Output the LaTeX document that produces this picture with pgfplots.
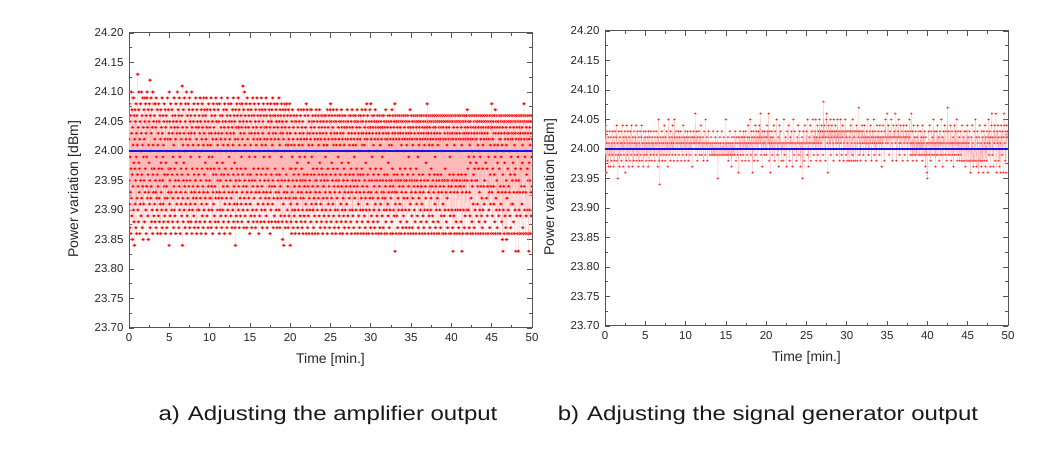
\documentclass[border=0pt]{standalone}
\usepackage{pgfplots}
\pgfplotsset{compat=1.18}
\usepackage{pgfplotstable}
\usepackage{graphicx}
\usepackage{fontspec}
\setmainfont{Liberation Sans}

\pgfplotstableread[row sep=\\]{
y\\
24.02\\ 23.95\\ 24.08\\ 23.91\\ 23.87\\ 24.05\\ 23.99\\ 23.93\\ 24.06\\ 23.86\\ 23.97\\ 24.10\\ 23.92\\ 24.03\\ 23.89\\ 24.07\\ 23.96\\ 23.85\\ 24.04\\ 24.09\\
23.94\\ 24.01\\ 23.90\\ 24.09\\ 23.98\\ 23.88\\ 24.06\\ 23.84\\ 24.02\\ 23.97\\ 24.07\\ 23.91\\ 24.05\\ 23.95\\ 23.87\\ 24.08\\ 23.99\\ 24.03\\ 23.86\\ 24.06\\
23.92\\ 24.01\\ 23.96\\ 24.13\\ 23.90\\ 23.94\\ 24.04\\ 23.88\\ 24.07\\ 23.98\\ 24.10\\ 23.93\\ 23.97\\ 24.02\\ 23.86\\ 24.05\\ 23.91\\ 24.08\\ 23.95\\ 24.00\\
23.89\\ 24.03\\ 24.10\\ 23.92\\ 23.96\\ 24.06\\ 23.87\\ 24.01\\ 23.94\\ 24.09\\ 23.85\\ 24.04\\ 23.99\\ 23.91\\ 24.07\\ 23.95\\ 24.02\\ 23.88\\ 24.05\\ 24.09\\
23.93\\ 23.97\\ 24.08\\ 23.90\\ 24.03\\ 23.86\\ 24.06\\ 23.94\\ 23.99\\ 24.09\\ 24.10\\ 23.92\\ 24.04\\ 23.89\\ 23.96\\ 24.07\\ 23.85\\ 24.01\\ 23.93\\ 24.05\\
23.98\\ 24.08\\ 23.91\\ 23.95\\ 24.12\\ 23.87\\ 24.06\\ 24.00\\ 23.92\\ 24.09\\ 23.94\\ 24.03\\ 23.88\\ 24.07\\ 23.97\\ 23.90\\ 24.04\\ 23.86\\ 24.10\\ 23.96\\
24.01\\ 23.93\\ 24.05\\ 23.89\\ 24.08\\ 23.97\\ 24.06\\ 23.91\\ 24.02\\ 23.88\\ 24.08\\ 23.95\\ 23.93\\ 24.04\\ 23.87\\ 24.09\\ 23.99\\ 23.92\\ 24.05\\ 23.90\\
23.96\\ 24.07\\ 23.86\\ 24.01\\ 23.94\\ 24.03\\ 23.89\\ 24.08\\ 23.97\\ 23.92\\ 24.05\\ 23.88\\ 24.00\\ 23.95\\ 24.06\\ 23.91\\ 24.02\\ 23.86\\ 24.07\\ 23.98\\
23.93\\ 24.04\\ 23.90\\ 23.97\\ 24.09\\ 23.87\\ 24.03\\ 23.95\\ 23.99\\ 24.06\\ 23.91\\ 24.01\\ 23.88\\ 24.05\\ 23.94\\ 24.08\\ 23.96\\ 23.89\\ 24.02\\ 23.92\\
24.07\\ 23.86\\ 24.04\\ 23.98\\ 23.90\\ 24.06\\ 23.94\\ 24.00\\ 23.87\\ 24.05\\ 23.92\\ 24.09\\ 23.96\\ 24.02\\ 23.88\\ 24.07\\ 23.93\\ 23.97\\ 24.03\\ 23.84\\
24.10\\ 23.91\\ 24.05\\ 23.95\\ 23.89\\ 24.02\\ 23.97\\ 24.08\\ 23.86\\ 24.04\\ 23.93\\ 24.00\\ 23.90\\ 24.07\\ 23.96\\ 24.03\\ 23.88\\ 24.06\\ 23.92\\ 23.99\\
24.05\\ 23.87\\ 24.01\\ 23.94\\ 24.09\\ 23.90\\ 23.97\\ 24.04\\ 23.89\\ 24.06\\ 23.95\\ 24.02\\ 23.86\\ 24.08\\ 23.93\\ 23.98\\ 24.05\\ 23.91\\ 24.03\\ 23.96\\
24.10\\ 23.88\\ 24.04\\ 23.92\\ 24.07\\ 23.95\\ 24.00\\ 23.87\\ 24.06\\ 23.94\\ 24.09\\ 23.90\\ 23.99\\ 24.03\\ 23.86\\ 24.05\\ 23.93\\ 24.08\\ 23.97\\ 23.91\\
24.02\\ 23.89\\ 24.06\\ 23.96\\ 24.11\\ 23.84\\ 24.04\\ 23.92\\ 24.01\\ 23.88\\ 24.07\\ 23.95\\ 23.98\\ 24.03\\ 23.90\\ 24.09\\ 23.94\\ 24.00\\ 23.87\\ 24.05\\
23.93\\ 24.08\\ 23.91\\ 24.02\\ 23.97\\ 24.10\\ 23.86\\ 24.04\\ 23.95\\ 23.89\\ 24.06\\ 23.92\\ 24.01\\ 23.96\\ 24.08\\ 23.88\\ 24.03\\ 23.94\\ 24.07\\ 23.90\\
24.09\\ 23.87\\ 24.02\\ 23.95\\ 24.05\\ 23.91\\ 23.99\\ 24.06\\ 23.88\\ 24.03\\ 23.93\\ 24.10\\ 23.86\\ 24.04\\ 23.97\\ 23.90\\ 24.07\\ 23.94\\ 24.01\\ 23.92\\
24.05\\ 23.89\\ 24.08\\ 23.96\\ 23.87\\ 24.03\\ 23.93\\ 24.06\\ 23.91\\ 24.00\\ 23.95\\ 24.09\\ 23.88\\ 24.04\\ 23.92\\ 24.02\\ 23.86\\ 24.07\\ 23.97\\ 23.90\\
24.05\\ 23.94\\ 24.08\\ 23.87\\ 24.01\\ 23.96\\ 24.04\\ 23.90\\ 24.06\\ 23.93\\ 23.99\\ 24.03\\ 23.88\\ 24.09\\ 23.92\\ 24.05\\ 23.95\\ 24.00\\ 23.86\\ 24.07\\
23.91\\ 24.02\\ 23.97\\ 24.08\\ 23.89\\ 24.04\\ 23.94\\ 24.06\\ 23.87\\ 24.01\\ 23.93\\ 24.09\\ 23.90\\ 24.03\\ 23.96\\ 24.07\\ 23.88\\ 24.05\\ 23.92\\ 23.98\\
24.06\\ 23.86\\ 24.02\\ 23.95\\ 24.09\\ 23.91\\ 24.04\\ 23.89\\ 24.07\\ 23.97\\ 23.93\\ 24.01\\ 23.87\\ 24.05\\ 23.94\\ 24.08\\ 23.90\\ 23.99\\ 24.03\\ 23.92\\
23.95\\ 24.04\\ 23.88\\ 24.07\\ 23.92\\ 24.01\\ 23.97\\ 24.09\\ 23.87\\ 24.03\\ 23.94\\ 24.06\\ 23.90\\ 23.99\\ 24.05\\ 23.86\\ 24.02\\ 23.93\\ 24.08\\ 23.96\\
23.91\\ 24.04\\ 23.97\\ 24.07\\ 23.89\\ 24.00\\ 23.94\\ 24.06\\ 23.88\\ 24.03\\ 23.92\\ 24.09\\ 23.96\\ 24.02\\ 23.87\\ 24.05\\ 23.93\\ 23.98\\ 24.08\\ 23.90\\
24.01\\ 23.95\\ 24.07\\ 23.88\\ 24.03\\ 23.92\\ 24.05\\ 23.97\\ 23.86\\ 24.08\\ 23.93\\ 24.00\\ 23.90\\ 24.06\\ 23.95\\ 24.02\\ 23.89\\ 24.04\\ 23.96\\ 24.09\\
23.87\\ 24.03\\ 23.92\\ 24.06\\ 23.98\\ 23.90\\ 24.05\\ 23.94\\ 24.01\\ 23.88\\ 24.07\\ 23.96\\ 23.93\\ 24.04\\ 23.86\\ 24.08\\ 23.91\\ 24.02\\ 23.97\\ 24.05\\
23.89\\ 24.00\\ 23.95\\ 24.07\\ 23.92\\ 24.03\\ 23.87\\ 24.06\\ 23.94\\ 24.09\\ 23.90\\ 24.01\\ 23.96\\ 24.04\\ 23.88\\ 24.08\\ 23.93\\ 23.99\\ 24.05\\ 23.91\\
24.02\\ 23.86\\ 24.06\\ 23.95\\ 24.03\\ 23.89\\ 24.08\\ 23.92\\ 24.00\\ 23.97\\ 24.05\\ 23.87\\ 24.04\\ 23.93\\ 24.07\\ 23.90\\ 24.01\\ 23.96\\ 24.09\\ 23.88\\
24.03\\ 23.94\\ 24.06\\ 23.91\\ 23.98\\ 24.05\\ 23.87\\ 24.02\\ 23.84\\ 24.07\\ 23.95\\ 24.00\\ 23.89\\ 24.04\\ 23.93\\ 24.08\\ 23.97\\ 23.91\\ 24.06\\ 23.88\\
24.02\\ 23.96\\ 24.09\\ 23.90\\ 24.04\\ 23.94\\ 24.07\\ 23.87\\ 24.01\\ 23.95\\ 24.05\\ 23.92\\ 24.08\\ 23.89\\ 24.03\\ 23.97\\ 24.06\\ 23.91\\ 23.99\\ 24.04\\
23.88\\ 24.08\\ 23.93\\ 24.02\\ 23.96\\ 24.11\\ 23.90\\ 24.05\\ 23.94\\ 24.07\\ 23.87\\ 24.03\\ 23.92\\ 24.10\\ 23.95\\ 24.01\\ 23.89\\ 24.06\\ 23.97\\ 24.04\\
23.91\\ 24.08\\ 23.94\\ 24.00\\ 23.87\\ 24.05\\ 23.93\\ 24.09\\ 23.90\\ 24.02\\ 23.96\\ 24.07\\ 23.88\\ 24.04\\ 23.92\\ 24.06\\ 23.95\\ 23.99\\ 24.03\\ 23.86\\
24.08\\ 23.91\\ 24.05\\ 23.96\\ 24.01\\ 23.89\\ 24.07\\ 23.93\\ 24.03\\ 23.87\\ 24.06\\ 23.95\\ 24.00\\ 23.90\\ 24.09\\ 23.94\\ 24.04\\ 23.88\\ 24.02\\ 23.97\\
24.06\\ 23.92\\ 24.08\\ 23.89\\ 24.03\\ 23.95\\ 23.99\\ 24.05\\ 23.87\\ 24.07\\ 23.93\\ 24.01\\ 23.90\\ 24.04\\ 23.96\\ 24.09\\ 23.88\\ 24.02\\ 23.94\\ 24.06\\
23.91\\ 24.03\\ 23.97\\ 24.08\\ 23.86\\ 24.05\\ 23.93\\ 24.00\\ 23.89\\ 24.07\\ 23.95\\ 24.02\\ 23.92\\ 24.06\\ 23.88\\ 24.04\\ 23.96\\ 24.09\\ 23.90\\ 24.01\\
23.94\\ 24.07\\ 23.87\\ 24.03\\ 23.97\\ 24.05\\ 23.91\\ 24.08\\ 23.93\\ 23.99\\ 24.06\\ 23.88\\ 24.02\\ 23.95\\ 24.04\\ 23.90\\ 24.07\\ 23.92\\ 24.01\\ 23.96\\
24.09\\ 23.89\\ 24.04\\ 23.93\\ 24.06\\ 23.87\\ 24.02\\ 23.97\\ 24.08\\ 23.91\\ 24.00\\ 23.95\\ 24.05\\ 23.88\\ 24.03\\ 23.92\\ 24.07\\ 23.94\\ 23.99\\ 24.04\\
23.86\\ 24.06\\ 23.93\\ 24.08\\ 23.90\\ 24.02\\ 23.96\\ 24.05\\ 23.88\\ 24.07\\ 23.94\\ 24.01\\ 23.91\\ 24.09\\ 23.95\\ 24.03\\ 23.87\\ 24.06\\ 23.92\\ 24.00\\
24.04\\ 23.89\\ 24.08\\ 23.94\\ 24.02\\ 23.97\\ 24.06\\ 23.88\\ 24.03\\ 23.93\\ 24.07\\ 23.90\\ 24.05\\ 23.96\\ 24.00\\ 23.87\\ 24.08\\ 23.92\\ 24.04\\ 23.95\\
24.06\\ 23.88\\ 24.02\\ 23.93\\ 24.09\\ 23.90\\ 24.05\\ 23.96\\ 24.01\\ 23.87\\ 24.07\\ 23.94\\ 24.03\\ 23.89\\ 24.06\\ 23.92\\ 23.99\\ 24.08\\ 23.95\\ 24.04\\
23.88\\ 24.05\\ 23.85\\ 24.03\\ 23.97\\ 24.07\\ 23.91\\ 24.02\\ 23.84\\ 24.06\\ 23.93\\ 24.00\\ 23.89\\ 24.08\\ 23.95\\ 24.04\\ 23.87\\ 24.07\\ 23.92\\ 24.01\\
23.96\\ 24.05\\ 23.88\\ 24.08\\ 23.93\\ 24.03\\ 23.90\\ 24.06\\ 23.94\\ 24.01\\ 23.87\\ 24.07\\ 23.95\\ 24.02\\ 23.89\\ 24.04\\ 23.92\\ 24.08\\ 23.97\\ 24.00\\
23.84\\ 24.03\\ 23.91\\ 24.06\\ 23.88\\ 23.97\\ 24.01\\ 23.86\\ 24.05\\ 23.93\\ 23.99\\ 24.07\\ 23.90\\ 23.95\\ 24.02\\ 23.87\\ 24.04\\ 23.92\\ 23.96\\ 24.06\\
23.89\\ 24.01\\ 23.94\\ 24.05\\ 23.90\\ 23.86\\ 24.03\\ 23.97\\ 23.92\\ 24.05\\ 23.88\\ 24.00\\ 23.95\\ 24.06\\ 23.91\\ 23.98\\ 24.02\\ 23.87\\ 24.04\\ 23.93\\
24.07\\ 23.90\\ 23.96\\ 24.01\\ 23.86\\ 24.05\\ 23.94\\ 23.99\\ 24.03\\ 23.89\\ 23.95\\ 24.06\\ 23.92\\ 24.02\\ 23.88\\ 24.07\\ 23.93\\ 23.97\\ 24.04\\ 23.87\\
24.01\\ 23.90\\ 24.05\\ 23.95\\ 23.86\\ 24.03\\ 23.92\\ 24.07\\ 23.96\\ 23.89\\ 24.02\\ 23.94\\ 23.99\\ 24.06\\ 23.88\\ 23.95\\ 24.04\\ 23.91\\ 24.00\\ 23.86\\
24.08\\ 23.93\\ 24.02\\ 23.90\\ 24.07\\ 23.96\\ 23.87\\ 24.03\\ 23.94\\ 24.06\\ 23.89\\ 23.98\\ 24.01\\ 23.86\\ 24.05\\ 23.92\\ 24.03\\ 23.95\\ 23.90\\ 24.07\\
23.93\\ 24.02\\ 23.88\\ 24.04\\ 23.96\\ 24.07\\ 23.91\\ 23.99\\ 24.05\\ 23.86\\ 24.01\\ 23.94\\ 24.06\\ 23.90\\ 23.97\\ 24.03\\ 23.87\\ 24.05\\ 23.92\\ 23.96\\
24.04\\ 23.89\\ 24.02\\ 23.95\\ 23.86\\ 24.06\\ 23.93\\ 24.00\\ 23.91\\ 24.07\\ 23.95\\ 23.88\\ 24.03\\ 23.97\\ 24.05\\ 23.90\\ 23.94\\ 24.02\\ 23.86\\ 24.06\\
23.92\\ 24.01\\ 23.96\\ 24.04\\ 23.89\\ 24.07\\ 23.93\\ 23.98\\ 24.03\\ 23.87\\ 24.05\\ 23.91\\ 24.02\\ 23.95\\ 24.06\\ 23.88\\ 23.97\\ 24.04\\ 23.90\\ 23.96\\
24.06\\ 23.86\\ 23.94\\ 24.03\\ 23.92\\ 24.05\\ 23.94\\ 24.01\\ 23.89\\ 24.06\\ 23.95\\ 24.02\\ 23.87\\ 24.04\\ 23.93\\ 23.99\\ 24.06\\ 23.90\\ 23.96\\ 24.03\\
23.88\\ 24.05\\ 23.92\\ 24.01\\ 23.86\\ 24.07\\ 23.95\\ 23.97\\ 24.04\\ 23.91\\ 24.02\\ 23.89\\ 24.06\\ 23.94\\ 24.00\\ 23.87\\ 24.05\\ 23.93\\ 24.07\\ 23.90\\
24.08\\ 23.96\\ 24.03\\ 23.88\\ 24.05\\ 23.92\\ 23.98\\ 24.06\\ 23.86\\ 24.02\\ 23.95\\ 24.04\\ 23.91\\ 23.97\\ 24.07\\ 23.89\\ 24.01\\ 23.94\\ 24.05\\ 23.87\\
24.03\\ 23.93\\ 24.06\\ 23.90\\ 23.96\\ 24.02\\ 23.86\\ 24.05\\ 23.95\\ 24.01\\ 23.88\\ 24.07\\ 23.92\\ 24.03\\ 23.97\\ 23.90\\ 24.06\\ 23.94\\ 23.99\\ 24.04\\
23.87\\ 23.95\\ 24.02\\ 23.89\\ 24.05\\ 23.93\\ 24.06\\ 23.86\\ 24.01\\ 23.96\\ 24.03\\ 23.91\\ 24.05\\ 23.88\\ 24.07\\ 23.94\\ 23.98\\ 24.04\\ 23.90\\ 24.02\\
23.86\\ 24.06\\ 23.92\\ 24.03\\ 23.95\\ 23.89\\ 24.05\\ 23.97\\ 24.01\\ 23.87\\ 24.04\\ 23.93\\ 24.06\\ 23.90\\ 23.96\\ 24.02\\ 23.88\\ 24.05\\ 23.94\\ 24.00\\
23.91\\ 24.04\\ 23.86\\ 24.07\\ 23.95\\ 24.02\\ 23.89\\ 24.05\\ 23.93\\ 23.98\\ 24.03\\ 23.87\\ 24.06\\ 23.92\\ 24.01\\ 23.96\\ 24.04\\ 23.90\\ 23.94\\ 24.06\\
23.88\\ 24.02\\ 23.97\\ 24.05\\ 23.86\\ 24.03\\ 23.93\\ 24.07\\ 23.90\\ 23.95\\ 24.04\\ 23.89\\ 24.01\\ 23.96\\ 24.06\\ 23.87\\ 24.02\\ 23.94\\ 23.99\\ 24.05\\
23.92\\ 24.03\\ 23.86\\ 24.06\\ 23.95\\ 24.01\\ 23.90\\ 24.05\\ 23.93\\ 23.97\\ 24.04\\ 23.88\\ 24.07\\ 23.94\\ 24.02\\ 23.86\\ 24.05\\ 23.96\\ 23.91\\ 24.03\\
23.89\\ 24.06\\ 23.95\\ 24.00\\ 23.87\\ 24.04\\ 23.93\\ 24.02\\ 23.90\\ 24.06\\ 23.96\\ 23.86\\ 24.05\\ 23.92\\ 24.03\\ 23.97\\ 24.07\\ 23.88\\ 24.01\\ 23.94\\
24.05\\ 23.90\\ 23.96\\ 24.03\\ 23.86\\ 24.06\\ 23.93\\ 24.01\\ 23.89\\ 24.04\\ 23.95\\ 24.02\\ 23.87\\ 24.07\\ 23.92\\ 23.98\\ 24.05\\ 23.90\\ 24.03\\ 23.86\\
24.08\\ 23.94\\ 24.02\\ 23.91\\ 24.06\\ 23.96\\ 23.88\\ 24.04\\ 23.93\\ 24.00\\ 23.86\\ 24.05\\ 23.95\\ 24.03\\ 23.90\\ 24.07\\ 23.92\\ 23.97\\ 24.04\\ 23.87\\
24.08\\ 23.93\\ 24.02\\ 23.89\\ 24.05\\ 23.95\\ 23.99\\ 24.06\\ 23.86\\ 24.03\\ 23.92\\ 24.04\\ 23.88\\ 24.01\\ 23.96\\ 24.06\\ 23.90\\ 23.94\\ 24.05\\ 23.87\\
24.02\\ 23.95\\ 24.07\\ 23.91\\ 23.97\\ 24.04\\ 23.86\\ 24.03\\ 23.93\\ 24.05\\ 23.89\\ 24.00\\ 23.95\\ 24.06\\ 23.88\\ 24.02\\ 23.92\\ 24.04\\ 23.96\\ 23.86\\
24.05\\ 23.90\\ 24.03\\ 23.94\\ 24.06\\ 23.87\\ 24.01\\ 23.95\\ 24.04\\ 23.91\\ 23.97\\ 24.05\\ 23.86\\ 24.02\\ 23.93\\ 24.06\\ 23.89\\ 23.99\\ 24.04\\ 23.92\\
23.95\\ 24.03\\ 23.87\\ 24.06\\ 23.93\\ 24.00\\ 23.90\\ 24.05\\ 23.96\\ 23.86\\ 24.04\\ 23.92\\ 24.02\\ 23.94\\ 24.07\\ 23.88\\ 24.03\\ 23.95\\ 23.90\\ 24.05\\
23.86\\ 24.02\\ 23.96\\ 24.04\\ 23.91\\ 24.06\\ 23.89\\ 23.98\\ 24.03\\ 23.93\\ 24.05\\ 23.87\\ 24.01\\ 23.95\\ 24.06\\ 23.90\\ 23.94\\ 24.02\\ 23.86\\ 24.04\\
23.92\\ 24.05\\ 23.95\\ 24.01\\ 23.88\\ 24.07\\ 23.93\\ 23.97\\ 24.03\\ 23.86\\ 24.06\\ 23.94\\ 24.02\\ 23.90\\ 24.04\\ 23.96\\ 23.89\\ 24.05\\ 23.93\\ 24.08\\
23.83\\ 24.03\\ 23.91\\ 24.06\\ 23.95\\ 23.86\\ 24.02\\ 23.93\\ 24.05\\ 23.89\\ 24.00\\ 23.96\\ 24.04\\ 23.87\\ 24.06\\ 23.92\\ 24.03\\ 23.95\\ 23.90\\ 24.05\\
23.86\\ 24.02\\ 23.94\\ 24.06\\ 23.91\\ 23.97\\ 24.04\\ 23.88\\ 24.03\\ 23.95\\ 24.05\\ 23.86\\ 24.01\\ 23.93\\ 24.06\\ 23.90\\ 23.96\\ 24.02\\ 23.87\\ 24.05\\
23.94\\ 24.03\\ 23.89\\ 24.06\\ 23.92\\ 24.00\\ 23.95\\ 24.04\\ 23.86\\ 24.02\\ 23.97\\ 24.05\\ 23.90\\ 24.06\\ 23.93\\ 23.87\\ 24.03\\ 23.95\\ 24.01\\ 23.88\\
24.05\\ 23.92\\ 24.02\\ 23.96\\ 24.06\\ 23.86\\ 24.04\\ 23.94\\ 23.99\\ 24.03\\ 23.90\\ 24.05\\ 23.87\\ 24.02\\ 23.95\\ 24.07\\ 23.91\\ 23.97\\ 24.04\\ 23.86\\
24.03\\ 23.93\\ 24.06\\ 23.89\\ 23.95\\ 24.02\\ 23.87\\ 24.05\\ 23.92\\ 24.01\\ 23.96\\ 24.04\\ 23.86\\ 24.06\\ 23.94\\ 24.00\\ 23.90\\ 24.03\\ 23.95\\ 24.05\\
23.88\\ 24.02\\ 23.93\\ 24.06\\ 23.86\\ 23.97\\ 24.04\\ 23.91\\ 24.05\\ 23.95\\ 24.02\\ 23.89\\ 24.06\\ 23.94\\ 23.99\\ 24.03\\ 23.87\\ 24.05\\ 23.92\\ 24.01\\
23.96\\ 24.04\\ 23.86\\ 24.06\\ 23.93\\ 24.02\\ 23.90\\ 24.05\\ 23.95\\ 23.88\\ 24.03\\ 23.94\\ 24.06\\ 23.91\\ 24.00\\ 23.86\\ 24.04\\ 23.96\\ 24.02\\ 23.89\\
24.05\\ 23.93\\ 24.03\\ 23.87\\ 24.06\\ 23.95\\ 24.01\\ 23.90\\ 24.04\\ 23.86\\ 24.02\\ 23.94\\ 24.05\\ 23.92\\ 23.98\\ 24.06\\ 23.88\\ 24.03\\ 23.95\\ 24.04\\
24.08\\ 23.90\\ 24.02\\ 23.95\\ 24.05\\ 23.86\\ 24.03\\ 23.93\\ 24.06\\ 23.89\\ 24.01\\ 23.96\\ 24.04\\ 23.87\\ 24.05\\ 23.94\\ 24.02\\ 23.90\\ 24.06\\ 23.92\\
23.97\\ 24.03\\ 23.86\\ 24.05\\ 23.94\\ 24.01\\ 23.89\\ 24.06\\ 23.95\\ 24.02\\ 23.88\\ 24.04\\ 23.93\\ 24.05\\ 23.86\\ 24.03\\ 23.96\\ 24.06\\ 23.91\\ 23.99\\
24.04\\ 23.87\\ 24.05\\ 23.94\\ 24.02\\ 23.90\\ 24.06\\ 23.95\\ 23.86\\ 24.03\\ 23.92\\ 24.05\\ 23.96\\ 24.01\\ 23.88\\ 24.06\\ 23.93\\ 24.02\\ 23.86\\ 24.04\\
23.95\\ 24.05\\ 23.90\\ 24.03\\ 23.94\\ 24.06\\ 23.87\\ 24.02\\ 23.96\\ 24.04\\ 23.89\\ 24.05\\ 23.93\\ 24.00\\ 23.86\\ 24.06\\ 23.95\\ 24.02\\ 23.91\\ 24.04\\
23.86\\ 24.05\\ 23.94\\ 24.02\\ 23.89\\ 24.06\\ 23.95\\ 24.03\\ 23.90\\ 23.97\\ 24.05\\ 23.86\\ 24.02\\ 23.93\\ 24.06\\ 23.88\\ 24.04\\ 23.95\\ 24.01\\ 23.92\\
24.05\\ 23.87\\ 24.03\\ 23.95\\ 24.06\\ 23.90\\ 24.02\\ 23.94\\ 24.04\\ 23.86\\ 24.05\\ 23.96\\ 23.99\\ 24.03\\ 23.89\\ 24.06\\ 23.93\\ 24.02\\ 23.86\\ 24.05\\
23.94\\ 24.02\\ 23.90\\ 24.06\\ 23.95\\ 24.03\\ 23.87\\ 24.05\\ 23.83\\ 24.02\\ 23.96\\ 24.04\\ 23.89\\ 24.06\\ 23.93\\ 24.01\\ 23.86\\ 24.05\\ 23.95\\ 24.03\\
23.90\\ 24.06\\ 23.94\\ 24.02\\ 23.88\\ 24.05\\ 23.95\\ 24.03\\ 23.86\\ 24.04\\ 23.93\\ 24.06\\ 23.90\\ 24.00\\ 23.96\\ 24.05\\ 23.87\\ 24.02\\ 23.94\\ 24.06\\
23.86\\ 24.03\\ 23.95\\ 24.05\\ 23.90\\ 24.02\\ 23.94\\ 24.06\\ 23.88\\ 24.04\\ 23.96\\ 24.01\\ 23.83\\ 24.05\\ 23.93\\ 24.02\\ 23.86\\ 24.06\\ 23.95\\ 24.03\\
23.90\\ 24.05\\ 23.94\\ 24.02\\ 23.87\\ 24.06\\ 23.95\\ 24.03\\ 23.89\\ 24.04\\ 23.96\\ 24.05\\ 23.86\\ 24.02\\ 23.93\\ 24.06\\ 23.90\\ 24.03\\ 23.95\\ 24.07\\
23.86\\ 24.04\\ 23.97\\ 24.02\\ 23.90\\ 24.05\\ 23.99\\ 24.03\\ 23.87\\ 24.06\\ 23.93\\ 24.01\\ 23.89\\ 24.05\\ 23.98\\ 24.02\\ 23.86\\ 24.04\\ 23.92\\ 24.06\\
23.95\\ 24.03\\ 23.88\\ 24.00\\ 23.94\\ 24.02\\ 23.86\\ 24.06\\ 23.91\\ 24.04\\ 23.96\\ 23.99\\ 24.05\\ 23.87\\ 24.03\\ 23.97\\ 24.06\\ 23.90\\ 24.02\\ 23.95\\
24.04\\ 23.86\\ 24.05\\ 23.98\\ 24.02\\ 23.89\\ 24.06\\ 23.95\\ 24.03\\ 23.91\\ 24.05\\ 23.94\\ 24.01\\ 23.86\\ 24.04\\ 23.97\\ 24.06\\ 23.88\\ 24.00\\ 23.93\\
24.05\\ 23.90\\ 24.03\\ 23.99\\ 24.06\\ 23.86\\ 24.02\\ 23.94\\ 24.04\\ 23.89\\ 24.05\\ 23.92\\ 24.03\\ 23.87\\ 24.06\\ 23.97\\ 24.01\\ 23.90\\ 24.04\\ 23.86\\
24.05\\ 23.94\\ 24.02\\ 23.91\\ 24.06\\ 23.95\\ 24.03\\ 23.88\\ 24.05\\ 23.98\\ 23.98\\ 24.04\\ 23.86\\ 24.06\\ 23.92\\ 24.02\\ 23.97\\ 24.05\\ 23.89\\ 24.03\\
23.94\\ 24.06\\ 23.86\\ 24.04\\ 23.99\\ 24.02\\ 23.90\\ 24.05\\ 23.93\\ 24.00\\ 23.87\\ 24.06\\ 23.96\\ 24.01\\ 23.91\\ 24.04\\ 23.94\\ 24.05\\ 23.86\\ 24.02\\
24.08\\ 23.93\\ 24.04\\ 23.89\\ 24.06\\ 23.97\\ 24.02\\ 23.86\\ 24.05\\ 23.94\\ 24.03\\ 23.91\\ 24.06\\ 23.96\\ 24.01\\ 23.88\\ 24.04\\ 23.99\\ 24.07\\ 23.86\\
24.03\\ 23.92\\ 24.05\\ 23.90\\ 24.00\\ 23.95\\ 24.06\\ 23.87\\ 24.04\\ 23.98\\ 24.01\\ 23.86\\ 24.05\\ 23.93\\ 24.03\\ 23.89\\ 24.06\\ 23.97\\ 24.02\\ 23.90\\
24.04\\ 23.86\\ 24.06\\ 23.94\\ 24.02\\ 23.91\\ 24.05\\ 23.99\\ 24.03\\ 23.88\\ 24.06\\ 23.93\\ 24.01\\ 23.85\\ 24.04\\ 23.96\\ 23.83\\ 24.05\\ 23.90\\ 24.00\\
23.94\\ 24.06\\ 23.86\\ 24.03\\ 23.98\\ 24.05\\ 23.89\\ 24.02\\ 23.93\\ 24.06\\ 23.87\\ 24.04\\ 23.95\\ 24.01\\ 23.85\\ 24.05\\ 23.92\\ 24.03\\ 23.86\\ 24.06\\
23.97\\ 24.02\\ 23.90\\ 24.05\\ 23.94\\ 24.03\\ 23.86\\ 24.06\\ 23.93\\ 24.00\\ 23.89\\ 24.04\\ 23.96\\ 24.05\\ 23.87\\ 24.02\\ 23.99\\ 24.06\\ 23.91\\ 24.03\\
23.86\\ 24.05\\ 23.95\\ 24.02\\ 23.91\\ 24.06\\ 23.98\\ 24.03\\ 23.88\\ 24.04\\ 23.93\\ 24.05\\ 23.86\\ 24.01\\ 23.96\\ 24.06\\ 23.90\\ 24.03\\ 23.97\\ 24.05\\
23.83\\ 24.02\\ 23.95\\ 24.06\\ 23.89\\ 24.04\\ 23.93\\ 24.00\\ 23.86\\ 24.05\\ 23.99\\ 24.03\\ 23.83\\ 24.06\\ 23.95\\ 24.02\\ 23.90\\ 24.05\\ 23.86\\ 24.04\\
23.93\\ 24.06\\ 23.89\\ 24.03\\ 23.97\\ 24.05\\ 23.86\\ 24.02\\ 23.94\\ 24.06\\ 23.91\\ 24.04\\ 23.98\\ 24.01\\ 23.87\\ 24.05\\ 23.93\\ 24.03\\ 23.86\\ 24.06\\
24.08\\ 23.94\\ 24.02\\ 23.90\\ 24.05\\ 23.99\\ 24.03\\ 23.86\\ 24.06\\ 23.93\\ 24.00\\ 23.89\\ 24.04\\ 23.96\\ 24.05\\ 23.86\\ 24.02\\ 23.97\\ 24.06\\ 23.90\\
24.03\\ 23.95\\ 24.05\\ 23.86\\ 23.83\\ 24.02\\ 23.98\\ 24.06\\ 23.90\\ 24.04\\ 23.95\\ 24.01\\ 23.86\\ 24.05\\ 23.93\\ 24.03\\ 23.89\\ 24.06\\ 23.99\\ 24.02\\
23.94\\
}\leftdata

\pgfplotstableread[row sep=\\]{
y\\
24.02\\ 23.99\\ 24.04\\ 23.96\\ 24.01\\ 24.03\\ 23.98\\ 24.00\\ 24.02\\ 23.97\\ 24.01\\ 23.99\\ 24.03\\ 23.97\\ 24.00\\ 24.02\\ 23.98\\ 24.01\\ 23.99\\ 24.03\\
24.00\\ 23.97\\ 24.02\\ 24.01\\ 23.98\\ 24.03\\ 24.00\\ 23.99\\ 24.02\\ 24.04\\ 23.98\\ 24.01\\ 23.95\\ 23.99\\ 24.03\\ 24.00\\ 23.97\\ 24.02\\ 24.01\\ 23.99\\
24.03\\ 23.98\\ 24.01\\ 24.00\\ 24.04\\ 23.97\\ 24.02\\ 23.99\\ 24.01\\ 24.03\\ 23.96\\ 24.00\\ 24.02\\ 23.98\\ 24.04\\ 24.01\\ 23.99\\ 24.03\\ 24.00\\ 23.97\\
24.02\\ 24.01\\ 23.98\\ 24.03\\ 24.00\\ 23.99\\ 24.04\\ 24.01\\ 23.97\\ 24.02\\ 24.00\\ 23.98\\ 24.03\\ 24.01\\ 23.99\\ 24.02\\ 24.00\\ 24.04\\ 23.98\\ 24.01\\
23.99\\ 24.03\\ 24.00\\ 23.97\\ 24.02\\ 24.01\\ 23.98\\ 24.03\\ 24.00\\ 23.99\\ 24.02\\ 24.04\\ 23.98\\ 24.01\\ 24.00\\ 23.97\\ 24.03\\ 24.01\\ 23.99\\ 24.02\\
24.00\\ 24.03\\ 23.98\\ 24.01\\ 23.99\\ 24.02\\ 24.00\\ 23.97\\ 24.03\\ 24.01\\ 23.98\\ 24.02\\ 24.00\\ 23.99\\ 24.03\\ 24.01\\ 23.98\\ 24.02\\ 24.00\\ 24.01\\
23.99\\ 24.03\\ 24.00\\ 23.98\\ 24.02\\ 24.01\\ 24.00\\ 24.03\\ 23.99\\ 24.01\\ 24.02\\ 23.97\\ 24.00\\ 24.05\\ 23.98\\ 24.01\\ 23.94\\ 24.02\\ 24.00\\ 23.99\\
24.01\\ 24.03\\ 23.98\\ 24.00\\ 24.02\\ 24.01\\ 23.99\\ 24.04\\ 24.00\\ 23.98\\ 24.02\\ 24.01\\ 23.99\\ 24.03\\ 24.00\\ 24.01\\ 23.97\\ 24.05\\ 24.00\\ 23.99\\
24.02\\ 24.01\\ 23.98\\ 24.03\\ 24.00\\ 24.01\\ 24.02\\ 23.99\\ 24.04\\ 24.00\\ 24.01\\ 23.98\\ 24.05\\ 24.02\\ 24.00\\ 23.99\\ 24.03\\ 24.01\\ 24.00\\ 24.02\\
23.98\\ 24.01\\ 24.03\\ 24.00\\ 23.99\\ 24.02\\ 24.01\\ 24.00\\ 24.03\\ 23.98\\ 24.01\\ 24.02\\ 24.00\\ 23.99\\ 24.04\\ 24.01\\ 24.00\\ 24.02\\ 23.98\\ 24.03\\
24.00\\ 24.01\\ 23.99\\ 24.02\\ 24.00\\ 24.03\\ 24.01\\ 23.98\\ 24.02\\ 24.00\\ 24.01\\ 23.99\\ 24.03\\ 24.00\\ 24.02\\ 24.01\\ 23.97\\ 24.00\\ 24.02\\ 24.01\\
24.03\\ 24.00\\ 24.02\\ 24.01\\ 24.06\\ 23.99\\ 24.01\\ 24.03\\ 24.00\\ 23.98\\ 24.02\\ 24.01\\ 24.00\\ 24.03\\ 24.01\\ 23.99\\ 24.02\\ 24.00\\ 24.04\\ 24.01\\
23.99\\ 24.01\\ 24.00\\ 24.02\\ 23.98\\ 24.01\\ 24.03\\ 24.00\\ 24.01\\ 23.99\\ 24.05\\ 24.01\\ 24.00\\ 24.02\\ 23.98\\ 24.01\\ 24.00\\ 24.03\\ 24.01\\ 24.00\\
23.99\\ 24.01\\ 24.00\\ 24.02\\ 23.99\\ 24.00\\ 24.01\\ 23.99\\ 24.03\\ 24.00\\ 23.99\\ 24.01\\ 23.99\\ 24.00\\ 24.02\\ 23.99\\ 24.01\\ 24.00\\ 23.99\\ 24.03\\
23.95\\ 23.99\\ 24.01\\ 24.00\\ 23.99\\ 24.02\\ 23.99\\ 24.01\\ 24.00\\ 23.99\\ 24.03\\ 23.99\\ 24.00\\ 24.01\\ 23.99\\ 24.02\\ 24.00\\ 23.99\\ 24.01\\ 23.99\\
24.05\\ 23.99\\ 24.01\\ 24.00\\ 23.99\\ 24.02\\ 23.98\\ 24.01\\ 23.99\\ 24.00\\ 24.03\\ 23.99\\ 24.01\\ 24.00\\ 23.97\\ 24.02\\ 23.99\\ 24.01\\ 24.00\\ 23.99\\
24.02\\ 24.00\\ 23.99\\ 24.03\\ 24.01\\ 23.98\\ 24.00\\ 24.02\\ 24.01\\ 23.99\\ 24.00\\ 23.96\\ 24.02\\ 24.01\\ 24.00\\ 24.03\\ 23.99\\ 24.01\\ 24.02\\ 24.00\\
23.98\\ 24.02\\ 24.01\\ 23.99\\ 24.03\\ 24.00\\ 24.02\\ 24.01\\ 23.98\\ 24.03\\ 24.00\\ 24.01\\ 23.99\\ 24.02\\ 24.00\\ 24.04\\ 24.01\\ 23.98\\ 24.02\\ 24.00\\
24.05\\ 24.01\\ 23.99\\ 24.03\\ 24.00\\ 24.02\\ 23.96\\ 24.01\\ 24.03\\ 24.00\\ 23.98\\ 24.02\\ 24.01\\ 24.04\\ 23.99\\ 24.01\\ 24.03\\ 24.00\\ 24.02\\ 23.98\\
24.01\\ 24.03\\ 24.00\\ 24.04\\ 24.02\\ 24.01\\ 24.06\\ 23.99\\ 24.02\\ 24.00\\ 23.97\\ 24.03\\ 24.01\\ 24.00\\ 24.02\\ 23.99\\ 24.03\\ 24.01\\ 24.00\\ 24.02\\
23.99\\ 24.02\\ 24.04\\ 24.00\\ 24.03\\ 24.01\\ 24.06\\ 23.98\\ 24.01\\ 24.03\\ 23.96\\ 24.02\\ 24.00\\ 24.01\\ 24.03\\ 23.99\\ 24.02\\ 24.00\\ 24.01\\ 24.04\\
24.01\\ 23.98\\ 24.03\\ 24.01\\ 24.00\\ 24.01\\ 24.05\\ 24.01\\ 23.99\\ 24.01\\ 24.02\\ 23.97\\ 24.01\\ 24.04\\ 24.01\\ 24.00\\ 24.03\\ 24.01\\ 23.98\\ 24.01\\
24.00\\ 24.01\\ 23.98\\ 24.01\\ 24.05\\ 24.01\\ 23.99\\ 24.01\\ 24.02\\ 24.01\\ 23.97\\ 24.01\\ 24.03\\ 24.01\\ 24.00\\ 24.01\\ 24.04\\ 24.01\\ 23.98\\ 24.01\\
24.02\\ 24.01\\ 24.00\\ 24.03\\ 24.01\\ 23.97\\ 24.01\\ 24.05\\ 24.01\\ 23.99\\ 24.01\\ 24.03\\ 24.01\\ 24.00\\ 24.01\\ 23.98\\ 24.01\\ 24.02\\ 24.01\\ 24.04\\
24.01\\ 23.99\\ 24.01\\ 24.03\\ 24.01\\ 23.97\\ 24.01\\ 24.00\\ 24.01\\ 24.02\\ 23.95\\ 24.01\\ 24.03\\ 24.01\\ 23.98\\ 24.01\\ 24.04\\ 24.01\\ 24.00\\ 24.01\\
24.03\\ 24.01\\ 23.99\\ 24.05\\ 24.01\\ 23.97\\ 24.01\\ 24.02\\ 24.01\\ 24.04\\ 24.01\\ 23.98\\ 24.01\\ 24.03\\ 24.01\\ 24.00\\ 24.05\\ 24.01\\ 23.99\\ 24.02\\
24.01\\ 24.03\\ 24.00\\ 24.05\\ 23.98\\ 24.02\\ 24.01\\ 24.04\\ 23.99\\ 24.03\\ 24.01\\ 24.00\\ 24.05\\ 24.02\\ 23.98\\ 24.03\\ 24.01\\ 24.04\\ 24.00\\ 24.02\\
24.03\\ 23.99\\ 24.08\\ 24.02\\ 24.04\\ 24.00\\ 24.03\\ 23.98\\ 24.02\\ 24.05\\ 24.06\\ 24.01\\ 24.03\\ 23.96\\ 24.02\\ 24.04\\ 24.00\\ 24.03\\ 24.01\\ 24.05\\
23.99\\ 24.03\\ 24.02\\ 24.04\\ 24.00\\ 24.03\\ 24.01\\ 23.98\\ 24.05\\ 24.02\\ 24.03\\ 24.00\\ 24.04\\ 24.01\\ 24.03\\ 23.99\\ 24.02\\ 24.05\\ 24.01\\ 24.03\\
24.00\\ 24.03\\ 23.98\\ 24.02\\ 24.05\\ 24.01\\ 24.03\\ 23.99\\ 24.03\\ 24.02\\ 24.04\\ 24.03\\ 23.98\\ 24.01\\ 24.03\\ 24.00\\ 24.05\\ 24.03\\ 23.99\\ 24.02\\
24.03\\ 23.98\\ 24.01\\ 24.03\\ 24.00\\ 23.98\\ 24.03\\ 24.02\\ 23.98\\ 24.03\\ 24.04\\ 23.98\\ 24.01\\ 24.03\\ 23.99\\ 24.05\\ 24.03\\ 23.98\\ 24.02\\ 24.03\\
24.01\\ 23.98\\ 24.03\\ 24.00\\ 24.04\\ 24.03\\ 23.98\\ 24.01\\ 24.03\\ 24.02\\ 24.07\\ 23.99\\ 24.03\\ 24.01\\ 23.98\\ 24.03\\ 24.00\\ 24.02\\ 24.04\\ 24.01\\
24.03\\ 23.99\\ 24.02\\ 24.01\\ 24.04\\ 24.00\\ 24.02\\ 23.98\\ 24.01\\ 24.03\\ 24.00\\ 24.02\\ 24.05\\ 24.01\\ 23.99\\ 24.02\\ 24.00\\ 24.03\\ 24.01\\ 24.04\\
24.00\\ 23.98\\ 24.02\\ 24.01\\ 24.03\\ 24.00\\ 24.02\\ 24.05\\ 23.99\\ 24.01\\ 24.03\\ 24.00\\ 24.02\\ 23.98\\ 24.01\\ 24.04\\ 24.02\\ 24.00\\ 24.03\\ 24.01\\
24.02\\ 23.99\\ 24.04\\ 24.01\\ 24.02\\ 24.00\\ 24.03\\ 23.97\\ 24.02\\ 24.01\\ 24.04\\ 24.02\\ 24.00\\ 23.98\\ 24.03\\ 24.02\\ 24.05\\ 24.01\\ 24.02\\ 24.00\\
24.06\\ 24.02\\ 24.01\\ 24.04\\ 24.02\\ 23.99\\ 24.02\\ 24.03\\ 24.00\\ 24.02\\ 24.05\\ 24.02\\ 24.01\\ 23.98\\ 24.02\\ 24.04\\ 24.02\\ 24.00\\ 24.03\\ 24.02\\
24.06\\ 24.01\\ 24.02\\ 23.98\\ 24.04\\ 24.02\\ 24.00\\ 24.03\\ 24.02\\ 24.05\\ 24.01\\ 23.99\\ 24.02\\ 24.04\\ 24.01\\ 24.02\\ 24.00\\ 24.03\\ 24.02\\ 23.98\\
24.02\\ 24.04\\ 24.01\\ 24.02\\ 23.99\\ 24.03\\ 24.02\\ 24.00\\ 24.04\\ 24.02\\ 24.01\\ 23.98\\ 24.03\\ 24.02\\ 24.00\\ 24.05\\ 24.02\\ 24.01\\ 23.99\\ 24.03\\
24.06\\ 24.01\\ 23.99\\ 24.03\\ 23.98\\ 24.01\\ 24.04\\ 23.99\\ 24.02\\ 24.00\\ 23.99\\ 24.03\\ 24.01\\ 23.98\\ 24.02\\ 24.00\\ 24.04\\ 23.99\\ 24.01\\ 24.03\\
23.99\\ 24.01\\ 24.00\\ 24.03\\ 23.99\\ 24.02\\ 24.01\\ 23.98\\ 24.04\\ 23.99\\ 24.02\\ 24.01\\ 23.99\\ 24.03\\ 24.00\\ 23.97\\ 24.02\\ 23.99\\ 24.01\\ 23.96\\
23.95\\ 24.01\\ 23.99\\ 24.03\\ 24.01\\ 23.99\\ 24.04\\ 24.01\\ 23.98\\ 24.01\\ 24.03\\ 23.99\\ 24.01\\ 24.02\\ 23.99\\ 24.05\\ 24.01\\ 23.99\\ 24.03\\ 24.01\\
23.97\\ 24.01\\ 24.03\\ 23.99\\ 24.01\\ 24.04\\ 23.99\\ 24.01\\ 24.02\\ 23.98\\ 24.01\\ 24.03\\ 23.99\\ 24.01\\ 24.05\\ 23.99\\ 24.01\\ 24.02\\ 23.97\\ 24.01\\
24.03\\ 23.99\\ 24.01\\ 24.04\\ 24.01\\ 23.99\\ 24.03\\ 24.01\\ 23.98\\ 24.01\\ 24.07\\ 24.01\\ 23.99\\ 24.03\\ 24.01\\ 24.00\\ 23.99\\ 24.04\\ 24.01\\ 23.98\\
24.01\\ 24.03\\ 23.99\\ 24.01\\ 24.02\\ 23.97\\ 24.01\\ 24.04\\ 23.99\\ 24.01\\ 24.03\\ 23.99\\ 24.01\\ 24.05\\ 23.98\\ 24.01\\ 24.03\\ 23.99\\ 24.01\\ 24.02\\
23.98\\ 24.01\\ 24.03\\ 23.99\\ 24.01\\ 23.98\\ 24.04\\ 24.01\\ 23.98\\ 24.02\\ 24.01\\ 23.98\\ 24.03\\ 24.01\\ 23.97\\ 24.01\\ 24.03\\ 23.98\\ 24.01\\ 24.04\\
23.98\\ 24.02\\ 23.98\\ 24.01\\ 24.03\\ 23.98\\ 24.00\\ 23.96\\ 23.98\\ 24.02\\ 23.98\\ 24.04\\ 23.98\\ 24.01\\ 23.97\\ 23.98\\ 24.03\\ 23.98\\ 24.00\\ 24.05\\
23.98\\ 24.02\\ 23.97\\ 23.98\\ 24.03\\ 24.01\\ 23.98\\ 23.96\\ 24.02\\ 23.98\\ 24.04\\ 24.00\\ 23.98\\ 24.01\\ 23.97\\ 24.03\\ 23.98\\ 24.02\\ 23.96\\ 24.00\\
24.03\\ 23.98\\ 24.01\\ 24.04\\ 23.97\\ 24.02\\ 24.00\\ 23.98\\ 24.03\\ 24.01\\ 23.96\\ 24.02\\ 24.05\\ 23.99\\ 24.01\\ 24.03\\ 23.97\\ 24.02\\ 24.00\\ 24.04\\
24.06\\ 23.99\\ 24.02\\ 24.00\\ 23.97\\ 24.03\\ 24.01\\ 24.04\\ 23.98\\ 24.02\\ 24.06\\ 24.00\\ 23.96\\ 24.03\\ 24.01\\ 24.04\\ 23.98\\ 24.02\\ 24.00\\ 23.97\\
24.03\\ 24.01\\ 23.96\\ 24.04\\ 24.02\\ 23.99\\ 24.03\\ 24.00\\ 23.96\\ 24.02\\ 24.06\\ 24.04\\ 24.01\\ 23.98\\ 24.03\\ 23.96\\ 24.02\\ 24.04\\ 24.00\\ 24.03\\
24.02\\
}\rightdata

\definecolor{axisgray}{RGB}{85,85,85}
\definecolor{plotred}{RGB}{255,0,0}
\definecolor{linered}{RGB}{255,185,185}
\definecolor{linered2}{RGB}{255,175,175}
\definecolor{refblue}{RGB}{20,20,230}

\pgfplotsset{
  panel/.style={
    scale only axis,
    width=403pt, height=295pt,
    anchor=south west,
    clip marker paths=true,
    xmin=0, xmax=50, ymin=23.7, ymax=24.2,
    xtick={0,5,10,15,20,25,30,35,40,45,50},
    ytick={23.70,23.75,23.80,23.85,23.90,23.95,24.00,24.05,24.10,24.15,24.20},
    minor tick num=1,
    tick align=inside,
    major tick length=5pt,
    minor tick length=3pt,
    every tick/.style={axisgray, line width=0.8pt},
    axis line style={axisgray, line width=1pt},
    tick label style={font=\fontsize{11.5}{13}\selectfont, text=black!85},
    /pgf/number format/assume math mode=true,
    yticklabel style={/pgf/number format/.cd, fixed, fixed zerofill, precision=2},
    xticklabel style={/pgf/number format/.cd, fixed, precision=0},
    label style={font=\fontsize{14}{16}\selectfont, text=black!85},
    xlabel={Time [min.]},
    ylabel={Power variation [dBm]},
    xlabel style={at={(axis description cs:0.5,-0.075)}, anchor=north},
    ylabel style={at={(axis description cs:-0.135,0.47)}, anchor=center},
    xticklabel shift=2pt,
    yticklabel shift=2pt,
  }
}

\begin{document}
\begin{tikzpicture}[x=1pt,y=1pt]
\useasboundingbox (0,0) rectangle (1064,454);
\begin{axis}[panel, at={(129pt,126pt)}]
\addplot[color=linered, line width=0.22pt, mark=*, mark size=1.6pt,
  mark options={draw=none, fill=plotred, xscale=1.2}]
  table[x expr=\coordindex*0.025, y=y]{\leftdata};
\addplot[refblue, line width=2.5pt] coordinates {(0,24.00) (50,24.00)};
\end{axis}

\begin{axis}[panel, at={(605pt,128pt)}]
\addplot[color=linered2, line width=0.25pt, mark=*, mark size=1.0pt,
  mark options={draw=none, fill=plotred, xscale=1.3}]
  table[x expr=\coordindex*0.05, y=y]{\rightdata};
\addplot[refblue, line width=2.5pt] coordinates {(0,24.00) (50,24.00)};
\end{axis}

\node[anchor=base, text=black!90] at (328,33) {\scalebox{1.2}[1]{\fontsize{20}{24}\selectfont a)\,\,Adjusting the amplifier output}};
\node[anchor=base, text=black!90] at (768,33) {\scalebox{1.2}[1]{\fontsize{20}{24}\selectfont b)\,\,Adjusting the signal generator output}};
\end{tikzpicture}
\end{document}
